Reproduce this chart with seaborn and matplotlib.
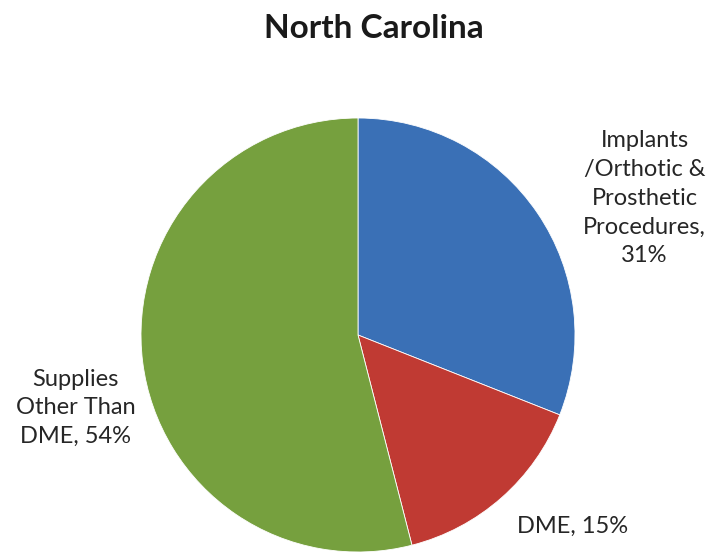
import matplotlib
matplotlib.use("Agg")
import matplotlib.pyplot as plt
import seaborn as sns

categories = ["Implants\n/Orthotic &\nProsthetic\nProcedures,\n31%", "DME, 15%", "Supplies\nOther Than\nDME, 54%"]
shares = [31, 15, 54]
colors = ["#3a70b6", "#c03a33", "#76a03e"]

sns.set_theme(style="white")
plt.rcParams['font.family'] = ['Lato', 'DejaVu Sans']

fig = plt.figure(figsize=(7.13, 5.52), dpi=100)
ax = fig.add_axes([141 / 713, 0.0, 434 / 713, 434 / 552])

wedges, texts = ax.pie(shares, colors=colors, startangle=90, counterclock=False,
                       labels=categories, radius=1.0,
                       wedgeprops=dict(edgecolor="white", linewidth=0.6),
                       textprops=dict(fontsize=17, color="#262626", ha="center", va="center",
                                      linespacing=1.45))
label_pos = [(1.32, 0.63), (0.99, -0.88), (-1.30, -0.335)]
for t, (x, y) in zip(texts, label_pos):
    t.set_position((x, y))
    t.set_ha("center")
    t.set_va("center")
    t.set_clip_on(False)

ax.set_xlim(-1, 1)
ax.set_ylim(-1, 1)
ax.set_aspect("equal")
ax.axis("off")

fig.text(374 / 713, 1 - 28 / 552, "North Carolina", ha="center", va="center",
         fontsize=24, fontweight="bold", color="#1a1a1a")

fig.savefig("out.png", dpi=100)
